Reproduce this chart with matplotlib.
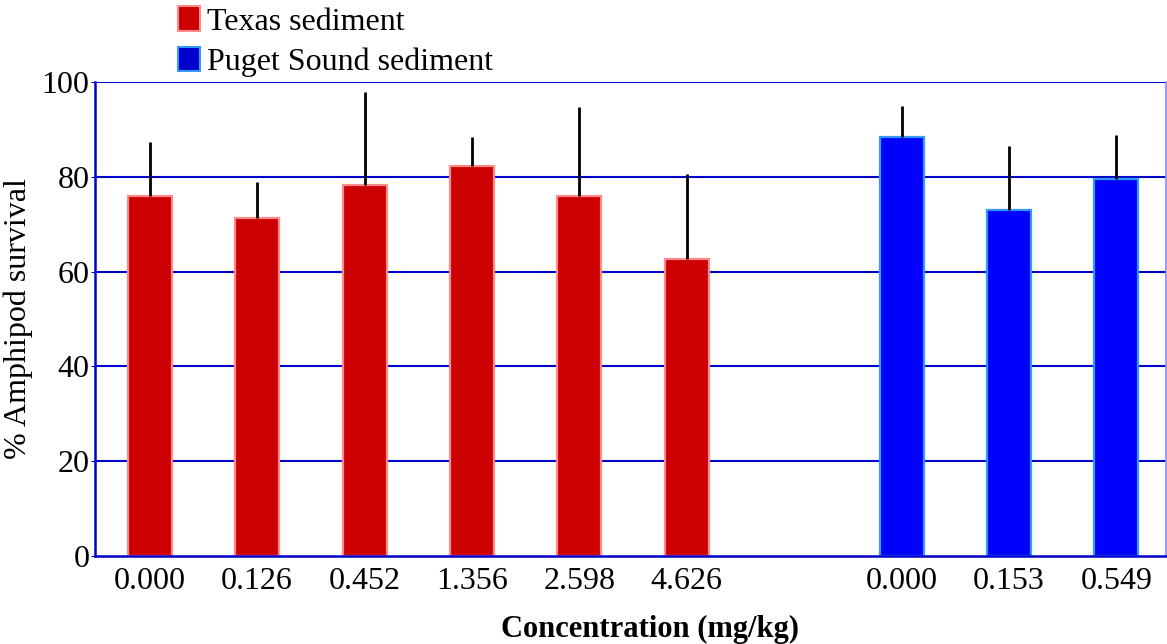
import matplotlib.pyplot as plt
from matplotlib.patches import Patch

plt.rcParams['font.family'] = ['Liberation Serif', 'DejaVu Serif']

# survival means and upper error bar tips (%)
texas_conc = ['0.000', '0.126', '0.452', '1.356', '2.598', '4.626']
texas_mean = [76.0, 71.3, 78.3, 82.2, 75.9, 62.7]
texas_top = [87.4, 78.9, 97.9, 88.4, 94.8, 80.5]

puget_conc = ['0.000', '0.153', '0.549']
puget_mean = [88.3, 73.0, 79.6]
puget_top = [94.9, 86.5, 88.8]

texas_x = list(range(len(texas_conc)))
puget_x = [len(texas_conc) + 1 + i for i in range(len(puget_conc))]


def main():
    fig = plt.figure(figsize=(11.67, 6.44), dpi=100)
    ax = fig.add_axes([0.0814, 0.1366, 0.9175, 0.7361])

    for y in [20, 40, 60, 80, 100]:
        ax.axhline(y, color='#0000cc', lw=1.5, zorder=1)

    w = 0.41
    ax.bar(texas_x, texas_mean, width=w, color='#cc0000',
           edgecolor='#ff8a8a', linewidth=1.6, zorder=2)
    ax.bar(puget_x, puget_mean, width=w, color='#0000ff',
           edgecolor='#3399ff', linewidth=1.6, zorder=2)

    # only the upper half of each error bar is shown
    up_t = [t - m for t, m in zip(texas_top, texas_mean)]
    up_p = [t - m for t, m in zip(puget_top, puget_mean)]
    ax.errorbar(texas_x, texas_mean, yerr=[[0] * len(up_t), up_t], fmt='none',
                ecolor='black', elinewidth=2, capsize=0, zorder=3)
    ax.errorbar(puget_x, puget_mean, yerr=[[0] * len(up_p), up_p], fmt='none',
                ecolor='black', elinewidth=2, capsize=0, zorder=3)

    ax.set_xlim(-0.51, 9.46)
    ax.set_ylim(0, 100)
    ax.set_yticks([0, 20, 40, 60, 80, 100])
    ax.set_xticks(texas_x + puget_x)
    ax.set_xticklabels(texas_conc + puget_conc)
    ax.tick_params(axis='y', labelsize=23, length=3, color='#0000cc', pad=1)
    ax.tick_params(axis='x', labelsize=23, length=0, pad=8)

    for side in ['left', 'bottom']:
        ax.spines[side].set_color('#0000cc')
        ax.spines[side].set_linewidth(1.8)
    ax.spines['top'].set_visible(False)
    ax.spines['right'].set_color('#8888ff')
    ax.spines['right'].set_linewidth(1.2)

    ax.set_ylabel('% Amphipod survival', fontsize=23, labelpad=6)
    ax.set_xlabel('Concentration (mg/kg)', fontsize=22, fontweight='bold')
    ax.xaxis.set_label_coords(0.518, -0.125)

    handles = [Patch(facecolor='#cc0000', edgecolor='#ff8a8a', lw=1.5),
               Patch(facecolor='#0000cc', edgecolor='#3399ff', lw=1.5)]
    fig.legend(handles, ['Texas sediment', 'Puget Sound sediment'],
               loc='upper left', bbox_to_anchor=(0.1525, 0.99), frameon=False,
               fontsize=23, handlelength=0.7, handleheight=0.8,
               handletextpad=0.2, labelspacing=0.32, borderaxespad=0,
               borderpad=0)

    fig.savefig('out.png', dpi=100)


if __name__ == '__main__':
    main()
